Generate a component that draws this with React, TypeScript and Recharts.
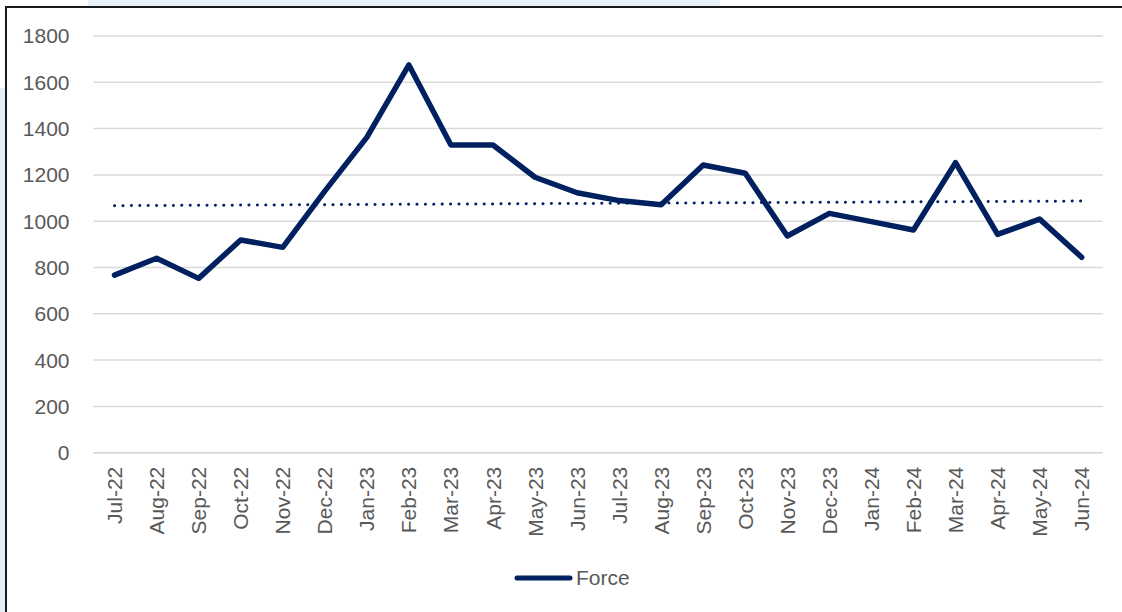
import React from "react";
import { LineChart, Line, XAxis, YAxis, CartesianGrid } from "recharts";

const months = [
  "Jul-22", "Aug-22", "Sep-22", "Oct-22", "Nov-22", "Dec-22",
  "Jan-23", "Feb-23", "Mar-23", "Apr-23", "May-23", "Jun-23",
  "Jul-23", "Aug-23", "Sep-23", "Oct-23", "Nov-23", "Dec-23",
  "Jan-24", "Feb-24", "Mar-24", "Apr-24", "May-24", "Jun-24",
];

const force = [
  767, 840, 753, 919, 887, 1130,
  1362, 1675, 1329, 1329, 1190, 1123,
  1089, 1071, 1243, 1207, 936, 1034,
  998, 962, 1253, 943, 1009, 844,
];

// Linear trendline endpoints
const trendStart = 1067;
const trendEnd = 1087;

const yTicks = [0, 200, 400, 600, 800, 1000, 1200, 1400, 1600, 1800];

const data = months.map((m, i) => ({
  idx: i,
  month: m,
  force: force[i],
  trend: i === 0 ? trendStart : i === months.length - 1 ? trendEnd : null,
}));

const centerTicks = months.map((_, i) => i);
const boundaryTicks = months.map((_, i) => i - 0.5).concat([months.length - 0.5]);
const xDomain: [number, number] = [-0.5, months.length - 0.5];

const FONT = "'Liberation Sans', Arial, sans-serif";
const TEXT = "#595959";
const GRID = "#d9d9d9";
const NAVY = "#002060";

const MonthTick = (props: any) => {
  const { x, y, payload } = props;
  return (
    <text
      x={x}
      y={y}
      transform={`rotate(-90 ${x} ${y})`}
      textAnchor="end"
      dy="0.36em"
      fill={TEXT}
      fontSize={21}
      fontFamily={FONT}
    >
      {months[payload.value]}
    </text>
  );
};

export default function App() {
  return (
    <div
      style={{
        position: "absolute",
        left: 0,
        top: 0,
        width: 1122,
        height: 612,
        background: "#ffffff",
        overflow: "hidden",
      }}
    >
      <div style={{ position: "absolute", left: 88, top: 0, width: 632, height: 6, background: "#e9f1fa" }} />
      <div style={{ position: "absolute", left: 0, top: 88, width: 5, height: 524, background: "#e6eef7" }} />
      <LineChart
        width={1122}
        height={612}
        data={data}
        margin={{ top: 36, right: 19.3, left: 0, bottom: 78.3 }}
      >
        <CartesianGrid
          xAxisId="lab"
          vertical={false}
          stroke={GRID}
          strokeWidth={1.5}
        />
        <XAxis
          xAxisId="grid"
          type="number"
          dataKey="idx"
          domain={xDomain}
          ticks={boundaryTicks}
          interval={0}
          tick={false}
          tickSize={7}
          tickLine={{ stroke: GRID, strokeWidth: 1.5 }}
          axisLine={{ stroke: GRID, strokeWidth: 1.5 }}
          height={1}
          allowDataOverflow
        />
        <XAxis
          xAxisId="lab"
          type="number"
          dataKey="idx"
          domain={xDomain}
          ticks={centerTicks}
          interval={0}
          tick={<MonthTick />}
          tickSize={7}
          tickMargin={6}
          tickLine={false}
          axisLine={false}
          height={80}
          allowDataOverflow
        />
        <YAxis
          type="number"
          domain={[0, 1800]}
          ticks={yTicks}
          interval={0}
          width={93.5}
          axisLine={false}
          tickLine={false}
          tickSize={0}
          tickMargin={24}
          tick={{ fill: TEXT, fontSize: 21, fontFamily: FONT }}
        />
        <Line
          xAxisId="lab"
          type="linear"
          dataKey="trend"
          stroke={NAVY}
          strokeWidth={3}
          strokeDasharray="0.1 8.3"
          strokeLinecap="round"
          dot={false}
          activeDot={false}
          connectNulls
          isAnimationActive={false}
        />
        <Line
          xAxisId="lab"
          type="linear"
          dataKey="force"
          name="Force"
          stroke={NAVY}
          strokeWidth={5.5}
          strokeLinejoin="round"
          strokeLinecap="round"
          dot={false}
          activeDot={false}
          isAnimationActive={false}
        />
      </LineChart>
      <div
        style={{
          position: "absolute",
          left: 514,
          top: 566,
          height: 24,
          display: "flex",
          alignItems: "center",
          fontFamily: FONT,
          fontSize: 21,
          color: TEXT,
        }}
      >
        <svg width={60} height={10} style={{ display: "block" }}>
          <line x1={3} y1={5} x2={56} y2={5} stroke={NAVY} strokeWidth={5} strokeLinecap="round" />
        </svg>
        <span style={{ marginLeft: 2 }}>Force</span>
      </div>
      <div style={{ position: "absolute", left: 5, top: 6, width: 1117, height: 2, background: "#1a1a1a" }} />
      <div style={{ position: "absolute", left: 5, top: 6, width: 2, height: 606, background: "#1a1a1a" }} />
    </div>
  );
}
